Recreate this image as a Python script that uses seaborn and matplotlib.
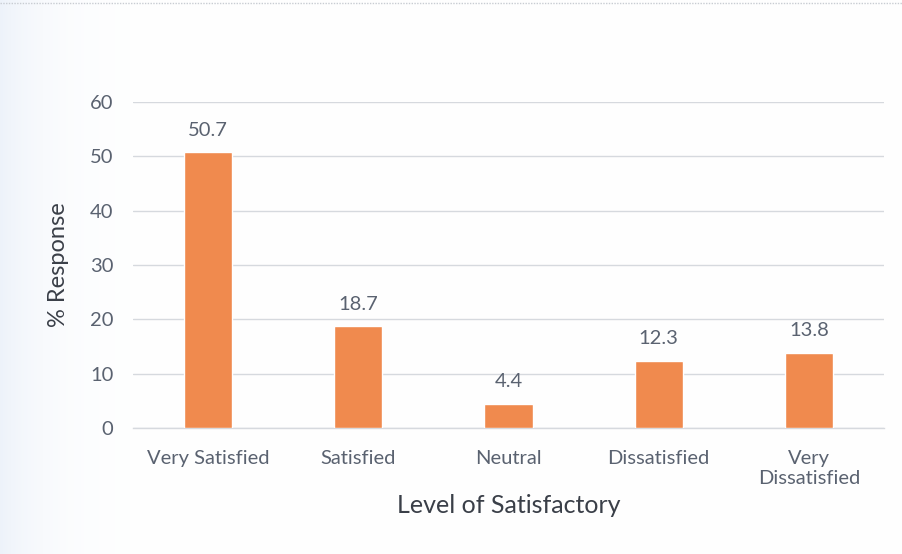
import numpy as np
import pandas as pd
import matplotlib
matplotlib.use("Agg")
import matplotlib.pyplot as plt
import seaborn as sns

categories = ["Very Satisfied", "Satisfied", "Neutral", "Dissatisfied", "Very\nDissatisfied"]
responses = [50.7, 18.7, 4.4, 12.3, 13.8]
y_ticks = [0, 10, 20, 30, 40, 50, 60]

df = pd.DataFrame({"level": categories, "pct": responses})

sns.set_theme(style="white")
plt.rcParams["font.family"] = ["Lato", "DejaVu Sans"]

text_color = "#5a6270"
bar_color = "#F08A4E"

fig = plt.figure(figsize=(9.02, 5.54), dpi=100)

# faint paper tint along the left edge and a thin border line at the top
bg = fig.add_axes([0, 0, 1, 1], zorder=-10)
x = np.linspace(0, 1, 902)
fade = 1 - np.exp(-x / 0.05)
tint = np.array([0.93, 0.95, 0.98])
row = tint[None, :] * (1 - fade[:, None]) + fade[:, None]
bg.imshow(np.repeat(row[None, :, :], 2, axis=0), aspect="auto",
          extent=[0, 1, 0, 1], interpolation="bilinear")
bg.plot([0, 1], [0.994, 0.994], color="#c8ccd2", lw=1, ls=(0, (1, 1)))
bg.set_xlim(0, 1)
bg.set_ylim(0, 1)
bg.axis("off")

ax = fig.add_axes([0.1475, 0.2274, 0.8325, 0.5886])
ax.set_facecolor("none")

sns.barplot(data=df, x="level", y="pct", color=bar_color, width=0.32,
            saturation=1, ax=ax, zorder=3)

ax.set_ylim(0, 60)
ax.set_xlim(-0.5, len(categories) - 0.5)
ax.set_yticks(y_ticks)
ax.set_yticklabels([str(t) for t in y_ticks])
ax.yaxis.grid(True, color="#d6d9de", linewidth=1.0, zorder=0)
ax.set_axisbelow(True)
for side in ["top", "right", "left"]:
    ax.spines[side].set_visible(False)
ax.spines["bottom"].set_color("#d6d9de")
ax.spines["bottom"].set_linewidth(1.0)

ax.tick_params(axis="both", length=0, colors=text_color, labelsize=14.5)
ax.tick_params(axis="y", pad=14)
ax.tick_params(axis="x", pad=16)

for cont in ax.containers:
    ax.bar_label(cont, labels=[f"{v:.1f}" for v in responses], padding=10,
                 fontsize=14.5, color=text_color)

ax.set_ylabel("% Response", fontsize=17, color="#3a3f48", labelpad=15)
ax.set_xlabel("Level of Satisfactory", fontsize=18, color="#3a3f48", labelpad=5)

fig.savefig("out.png", dpi=100, facecolor="white")
